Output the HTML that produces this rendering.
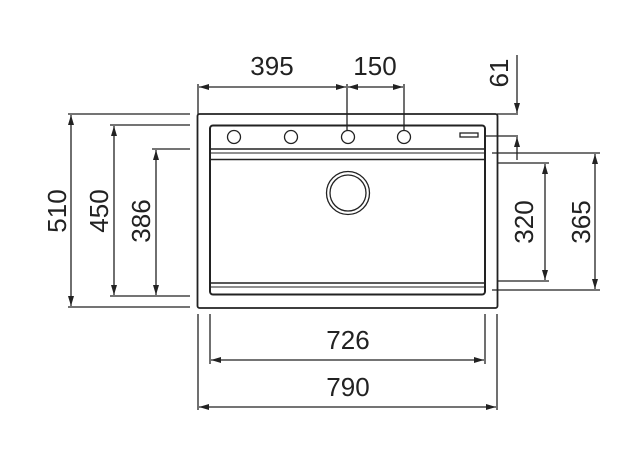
<!DOCTYPE html>
<html><head><meta charset="utf-8"><style>html,body{margin:0;padding:0;background:#fff}svg{display:block}</style></head>
<body>
<svg width="640" height="470" viewBox="0 0 640 470" xmlns="http://www.w3.org/2000/svg">
<defs>
<marker id="a" viewBox="0 0 10 6" refX="10" refY="3" markerWidth="11" markerHeight="6" orient="auto-start-reverse" markerUnits="userSpaceOnUse"><path d="M0,0L10,3L0,6z" fill="#222"/></marker>
</defs>
<g fill="none" stroke="#222" stroke-width="1.3">
<rect x="197.5" y="114" width="300" height="194" rx="2" stroke-width="1.8"/>
<rect x="210" y="125.5" width="275" height="169" rx="3" stroke-width="2"/>
<line x1="211" y1="149" x2="484" y2="149" stroke-width="1.6"/>
<line x1="211" y1="153" x2="484" y2="153" stroke-width="1"/>
<line x1="211" y1="159.5" x2="484" y2="159.5" stroke-width="1.6"/>
<line x1="211" y1="283" x2="484" y2="283" stroke-width="1.6"/>
<line x1="211" y1="287" x2="484" y2="287" stroke-width="1"/>
<circle cx="234" cy="137" r="6.5"/><circle cx="291" cy="137" r="6.5"/>
<circle cx="348" cy="137" r="6.5"/><circle cx="404" cy="137" r="6.5"/>
<rect x="460" y="133" width="18" height="4" stroke-width="1.3"/>
<circle cx="348" cy="193" r="21.5"/><circle cx="348" cy="193" r="18"/>
<line x1="68" y1="114" x2="190" y2="114"/><line x1="68" y1="307" x2="190" y2="307"/>
<line x1="110" y1="125" x2="190" y2="125"/><line x1="110" y1="296" x2="190" y2="296"/>
<line x1="152" y1="149" x2="190" y2="149"/>
<line x1="71" y1="115" x2="71" y2="306" marker-start="url(#a)" marker-end="url(#a)"/>
<line x1="114" y1="126" x2="114" y2="295" marker-start="url(#a)" marker-end="url(#a)"/>
<line x1="156" y1="150" x2="156" y2="295" marker-start="url(#a)" marker-end="url(#a)"/>
<line x1="198" y1="84" x2="198" y2="114"/>
<line x1="347" y1="84" x2="347" y2="130"/>
<line x1="404" y1="84" x2="404" y2="130"/>
<line x1="199" y1="87" x2="346" y2="87" marker-start="url(#a)" marker-end="url(#a)"/>
<line x1="348" y1="87" x2="403" y2="87" marker-start="url(#a)" marker-end="url(#a)"/>
<line x1="497" y1="114" x2="518" y2="114"/>
<line x1="486" y1="136" x2="518" y2="136"/>
<line x1="492" y1="153" x2="600" y2="153"/>
<line x1="497" y1="163" x2="549" y2="163"/>
<line x1="497" y1="281" x2="549" y2="281"/>
<line x1="492" y1="290" x2="600" y2="290"/>
<line x1="517" y1="55" x2="517" y2="113" marker-end="url(#a)"/>
<line x1="517" y1="160" x2="517" y2="137" marker-end="url(#a)"/>
<line x1="545" y1="164" x2="545" y2="280" marker-start="url(#a)" marker-end="url(#a)"/>
<line x1="595" y1="154" x2="595" y2="289" marker-start="url(#a)" marker-end="url(#a)"/>
<line x1="210" y1="314" x2="210" y2="364"/><line x1="485" y1="314" x2="485" y2="364"/>
<line x1="198" y1="314" x2="198" y2="410"/><line x1="497" y1="314" x2="497" y2="410"/>
<line x1="211" y1="360" x2="484" y2="360" marker-start="url(#a)" marker-end="url(#a)"/>
<line x1="199" y1="407" x2="496" y2="407" marker-start="url(#a)" marker-end="url(#a)"/>
</g>
<g font-family="Liberation Sans, sans-serif" font-size="26" fill="#222" text-anchor="middle">
<text x="272" y="75">395</text>
<text x="375" y="75">150</text>
<text x="348" y="349">726</text>
<text x="348" y="396">790</text>
<text transform="translate(66,211) rotate(-90)">510</text>
<text transform="translate(108,211) rotate(-90)">450</text>
<text transform="translate(150,221) rotate(-90)">386</text>
<text transform="translate(508,73) rotate(-90)">61</text>
<text transform="translate(533,222) rotate(-90)">320</text>
<text transform="translate(590,222) rotate(-90)">365</text>
</g>
</svg>
</body></html>
